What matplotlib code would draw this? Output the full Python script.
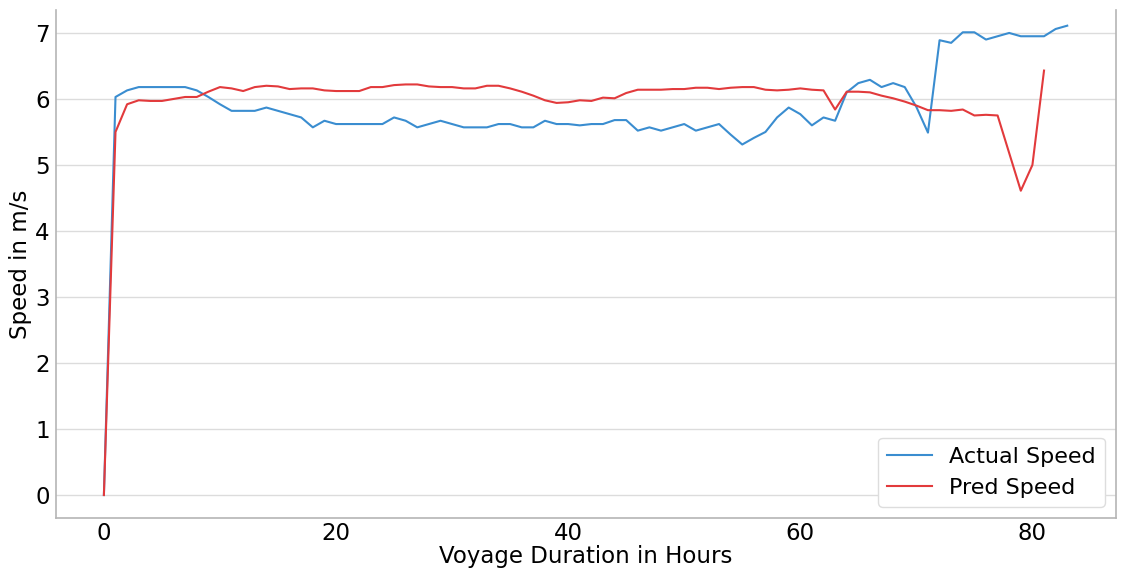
import matplotlib
matplotlib.use("Agg")
import matplotlib.pyplot as plt

# hourly speeds over the voyage (m/s)
actual_speed = [
    0.00, 6.03, 6.13, 6.18, 6.18, 6.18, 6.18, 6.18, 6.13, 6.03,
    5.92, 5.82, 5.82, 5.82, 5.87, 5.82, 5.77, 5.72, 5.57, 5.67,
    5.62, 5.62, 5.62, 5.62, 5.62, 5.72, 5.67, 5.57, 5.62, 5.67,
    5.62, 5.57, 5.57, 5.57, 5.62, 5.62, 5.57, 5.57, 5.67, 5.62,
    5.62, 5.60, 5.62, 5.62, 5.68, 5.68, 5.52, 5.57, 5.52, 5.57,
    5.62, 5.52, 5.57, 5.62, 5.46, 5.31, 5.41, 5.50, 5.72, 5.87,
    5.77, 5.60, 5.72, 5.67, 6.10, 6.24, 6.29, 6.18, 6.24, 6.18,
    5.88, 5.49, 6.89, 6.85, 7.01, 7.01, 6.90, 6.95, 7.00, 6.95,
    6.95, 6.95, 7.06, 7.11,
]
pred_speed = [
    0.00, 5.50, 5.92, 5.98, 5.97, 5.97, 6.00, 6.03, 6.03, 6.11,
    6.18, 6.16, 6.12, 6.18, 6.20, 6.19, 6.15, 6.16, 6.16, 6.13,
    6.12, 6.12, 6.12, 6.18, 6.18, 6.21, 6.22, 6.22, 6.19, 6.18,
    6.18, 6.16, 6.16, 6.20, 6.20, 6.16, 6.11, 6.05, 5.98, 5.94,
    5.95, 5.98, 5.97, 6.02, 6.01, 6.09, 6.14, 6.14, 6.14, 6.15,
    6.15, 6.17, 6.17, 6.15, 6.17, 6.18, 6.18, 6.14, 6.13, 6.14,
    6.16, 6.14, 6.13, 5.84, 6.11, 6.11, 6.10, 6.05, 6.01, 5.96,
    5.90, 5.83, 5.83, 5.82, 5.84, 5.75, 5.76, 5.75, 5.18, 4.61,
    5.00, 6.43,
]
hours_actual = list(range(len(actual_speed)))
hours_pred = list(range(len(pred_speed)))

fig = plt.figure(figsize=(11.26, 5.70), dpi=100)
ax = fig.add_axes([0.0497, 0.0912, 0.9414, 0.8913])

ax.plot(hours_actual, actual_speed, color="#3a8dd0", linewidth=1.5, label="Actual Speed")
ax.plot(hours_pred, pred_speed, color="#e23a3c", linewidth=1.5, label="Pred Speed")

ax.set_xlim(-4.13, 87.2)
ax.set_ylim(-0.348, 7.348)
ax.set_xticks([0, 20, 40, 60, 80])
ax.set_yticks(range(8))

ax.grid(axis="y", color="#dcdcdc", linewidth=1)
ax.set_axisbelow(True)
for side in ["left", "bottom", "right"]:
    ax.spines[side].set_color("#b5b5b5")
    ax.spines[side].set_linewidth(1.2)
ax.spines["top"].set_visible(False)
ax.tick_params(axis="both", labelsize=16.5, length=0)
ax.tick_params(axis="x", pad=3)
ax.tick_params(axis="y", pad=4.5)

ax.set_xlabel("Voyage Duration in Hours", fontsize=16.5, labelpad=0)
ax.set_ylabel("Speed in m/s", fontsize=16.5, labelpad=2)
ax.legend(loc="lower right", fontsize=16, framealpha=1, edgecolor="#dddddd")

fig.savefig("out.png", dpi=100)
